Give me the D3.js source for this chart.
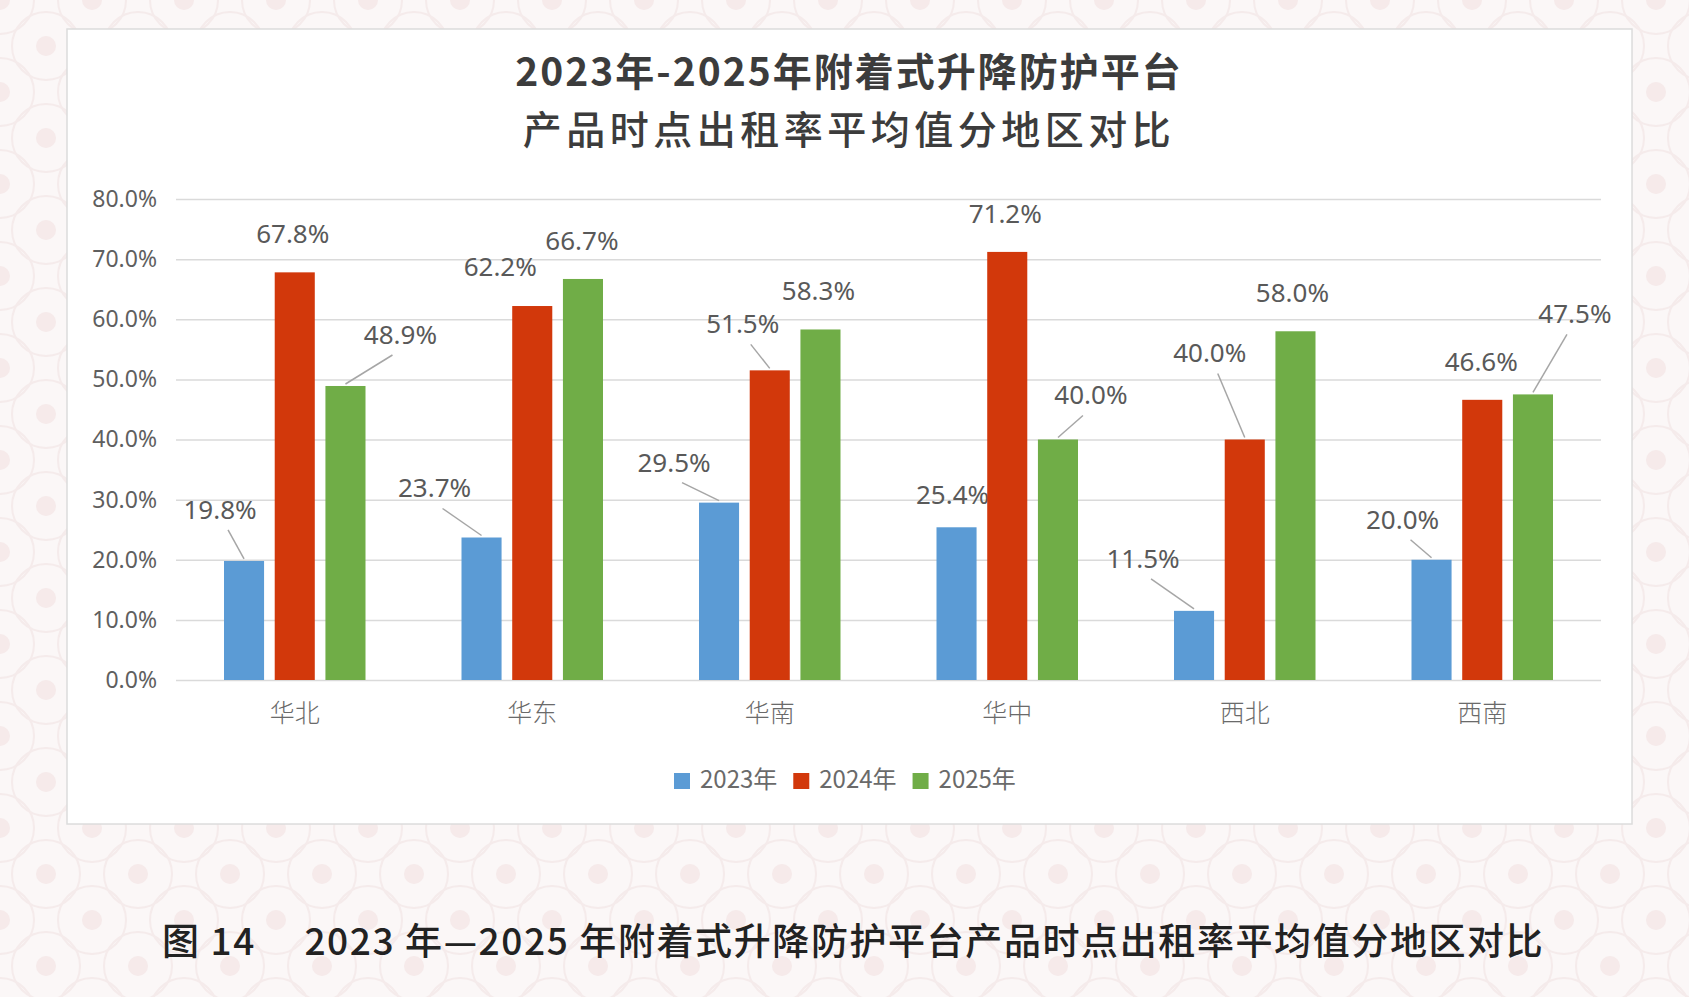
<!DOCTYPE html>
<html>
<head>
<meta charset="utf-8">
<script src="https://cdn.jsdelivr.net/npm/d3@7"></script>
<style>
  body { margin: 0; background: #fbf7f7; }
  svg { display: block; }
</style>
</head>
<body>
<div id="chart"></div>
<script>
// data
const regions = ["华北", "华东", "华南", "华中", "西北", "西南"];
const years = ["2023年", "2024年", "2025年"];
const v2023 = [0.198, 0.237, 0.295, 0.254, 0.115, 0.200];
const v2024 = [0.678, 0.622, 0.515, 0.712, 0.400, 0.466];
const v2025 = [0.489, 0.667, 0.583, 0.400, 0.580, 0.475];
const yTicks = [0, 0.1, 0.2, 0.3, 0.4, 0.5, 0.6, 0.7, 0.8];
const titleLines = ["2023年-2025年附着式升降防护平台", "产品时点出租率平均值分地区对比"];
const caption = "图 14\u3000 2023 年—2025 年附着式升降防护平台产品时点出租率平均值分地区对比";

// label placement relative to the top of each bar: [dx, dy, leader line]
const labelOffsets = [
  [[-24, -49, 1], [-2, -36, 0], [55, -49, 1]],
  [[-47, -47, 1], [-32, -37, 0], [-1, -36, 0]],
  [[-45, -38, 1], [-27, -44, 1], [-2, -36, 0]],
  [[-4, -30, 0], [-2, -36, 0], [33, -42, 1]],
  [[-51, -50, 1], [-35, -84, 1], [-3, -36, 0]],
  [[-29, -38, 1], [-1, -36, 0], [42, -78, 1]]
];

const colors = ["#5b9bd5", "#d2380b", "#70ad47"];
const series = [v2023, v2024, v2025];

const width = 1689, height = 997;
const margin = { top: 199, left: 176, right: 88, bottom: 317 };
const plotW = width - margin.left - margin.right;
const plotH = height - margin.top - margin.bottom;

const svg = d3.select("#chart").append("svg")
  .attr("width", width).attr("height", height);

// faint patterned page background
const defs = svg.append("defs");
const pat = defs.append("pattern")
  .attr("id", "bg").attr("width", 92).attr("height", 92)
  .attr("patternUnits", "userSpaceOnUse");
pat.append("rect").attr("width", 92).attr("height", 92).attr("fill", "#fbf7f7");
[[0, 0], [92, 0], [0, 92], [92, 92], [46, 46]].forEach(([cx, cy]) => {
  pat.append("circle").attr("cx", cx).attr("cy", cy).attr("r", 34)
    .attr("fill", "none").attr("stroke", "#f5ebeb").attr("stroke-width", 2);
  pat.append("circle").attr("cx", cx).attr("cy", cy).attr("r", 10)
    .attr("fill", "#f6eaea");
});
svg.append("rect").attr("width", width).attr("height", height).attr("fill", "url(#bg)");

// white chart card
svg.append("rect")
  .attr("x", 67).attr("y", 29).attr("width", 1565).attr("height", 795)
  .attr("fill", "#ffffff").attr("stroke", "#dcdcdc").attr("stroke-width", 1.5);

// title
svg.append("text")
  .attr("x", 849).attr("y", 75)
  .attr("text-anchor", "middle").attr("dominant-baseline", "middle")
  .style("font-family", "'Noto Sans CJK SC'").style("font-size", "39px")
  .style("font-weight", "700").style("fill", "#3c3c3c")
  .style("letter-spacing", "2px")
  .text(titleLines[0]);
svg.append("text")
  .attr("x", 849).attr("y", 133)
  .attr("text-anchor", "middle").attr("dominant-baseline", "middle")
  .style("font-family", "'Noto Sans CJK SC'").style("font-size", "39px")
  .style("font-weight", "500").style("fill", "#3c3c3c")
  .style("letter-spacing", "4.5px")
  .text(titleLines[1]);

const g = svg.append("g")
  .attr("transform", "translate(" + margin.left + "," + margin.top + ")");

const x0 = d3.scaleBand().domain(regions).range([0, plotW]);
const x1 = d3.scaleBand().domain(d3.range(3))
  .range([48, x0.bandwidth() - 48]).paddingInner(0.21);
const y = d3.scaleLinear().domain([0, 0.8]).range([plotH, 0]);

// gridlines + y labels
const yAxis = d3.axisLeft(y).tickValues(yTicks)
  .tickFormat(d3.format(".1%")).tickSize(-plotW).tickPadding(19);
g.append("g").call(yAxis)
  .call(s => s.select(".domain").remove())
  .call(s => s.selectAll("line").attr("stroke", "#dadada").attr("stroke-width", 1.5))
  .call(s => s.selectAll("text")
    .style("font-family", "'Noto Sans', 'Open Sans'")
    .style("font-size", "23px").style("fill", "#5f5f5f"));

// x labels
const xAxis = d3.axisBottom(x0).tickSize(0).tickPadding(24);
g.append("g").attr("transform", "translate(0," + plotH + ")").call(xAxis)
  .call(s => s.select(".domain").remove())
  .call(s => s.selectAll("text")
    .style("font-family", "'Noto Sans CJK SC'").style("font-weight", "300")
    .style("font-size", "25px").style("fill", "#6a6a6a"));

// bars
const groups = g.selectAll(".grp").data(regions).enter().append("g")
  .attr("class", "grp")
  .attr("transform", d => "translate(" + x0(d) + ",0)");

groups.each(function (region, i) {
  const grp = d3.select(this);
  series.forEach((vals, s) => {
    const v = vals[i];
    const bx = x1(s), bw = x1.bandwidth();
    grp.append("rect")
      .attr("x", bx).attr("y", y(v))
      .attr("width", bw).attr("height", plotH - y(v))
      .attr("fill", colors[s]);

    const [dx, dy, leader] = labelOffsets[i][s];
    const cx = bx + bw / 2, top = y(v);
    const lx = cx + dx, ly = top + dy;
    if (leader) {
      grp.append("line")
        .attr("x1", lx + Math.sign(cx - lx) * Math.min(8, Math.abs(cx - lx)))
        .attr("y1", ly + 18)
        .attr("x2", cx).attr("y2", top - 2)
        .attr("stroke", "#a6a6a6").attr("stroke-width", 1.5);
    }
    grp.append("text")
      .attr("x", lx).attr("y", ly)
      .attr("text-anchor", "middle").attr("dominant-baseline", "middle")
      .style("font-family", "'Noto Sans', 'Open Sans'")
      .style("font-size", "26px").style("fill", "#595959")
      .text(d3.format(".1%")(v));
  });
});

// legend
const legend = svg.append("g").attr("transform", "translate(674,781)");
let lxPos = 0;
years.forEach((yr, s) => {
  legend.append("rect").attr("x", lxPos).attr("y", -8)
    .attr("width", 16).attr("height", 16).attr("fill", colors[s]);
  const t = legend.append("text").attr("x", lxPos + 26).attr("y", 0)
    .attr("dominant-baseline", "middle")
    .style("font-family", "'Noto Sans CJK SC'").style("font-size", "24px")
    .style("fill", "#6a6a6a").text(yr);
  lxPos += 26 + t.node().getComputedTextLength() + 16;
});

// figure caption
svg.append("text")
  .attr("x", 162).attr("y", 945)
  .attr("dominant-baseline", "middle")
  .style("font-family", "'Noto Sans CJK SC'").style("font-size", "37px")
  .style("font-weight", "500").style("fill", "#222222")
  .style("letter-spacing", "1.6px")
  .text(caption);
</script>
</body>
</html>
